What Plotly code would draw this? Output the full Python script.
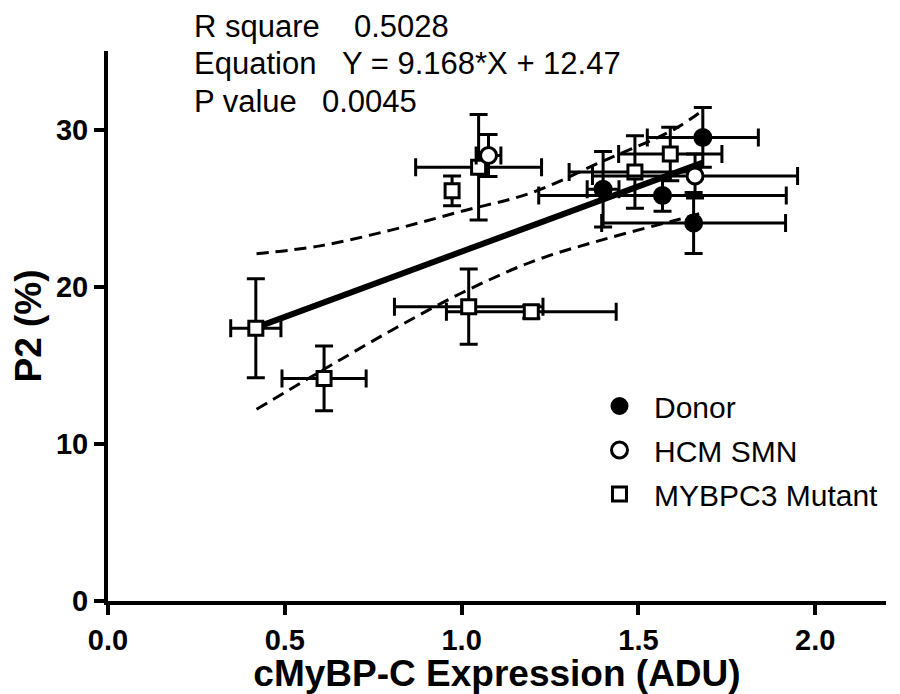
import plotly.graph_objects as go

# ---- data ----
donor_x = [1.40, 1.568, 1.682, 1.656]
donor_y = [26.2, 25.8, 29.5, 24.05]
donor_xerr = [0.045, 0.35, 0.157, 0.26]
donor_yerr = [2.4, 1.0, 1.9, 1.94]

hcm_x = [1.076, 1.66]
hcm_y = [28.35, 27.05]
hcm_xerr = [0.035, 0.29]
hcm_yerr = [1.33, 1.4]

mut_x = [0.418, 0.611, 1.02, 1.197, 0.973, 1.048, 1.49, 1.59]
mut_y = [17.35, 14.16, 18.73, 18.4, 26.1, 27.6, 27.3, 28.44]
mut_xerr = [0.071, 0.119, 0.21, 0.24, 0.0, 0.178, 0.186, 0.146]
mut_yerr = [3.15, 2.06, 2.39, 0.4, 0.95, 3.36, 2.3, 1.7]

fit_x = [0.418, 1.682]
fit_y = [17.4, 27.9]

band_x = [0.42, 0.6, 0.8, 1.0, 1.2, 1.4, 1.6, 1.68]
band_upper = [22.1, 22.6, 23.6, 24.8, 26.0, 28.0, 30.0, 31.2]
band_lower = [12.2, 14.6, 17.2, 19.6, 21.6, 23.0, 24.2, 24.7]

x_ticks = [0.0, 0.5, 1.0, 1.5, 2.0]
x_ticklabels = ["0.0", "0.5", "1.0", "1.5", "2.0"]
y_ticks = [0, 10, 20, 30]
y_ticklabels = ["0", "10", "20", "30"]

stats_labels = ["R square", "Equation", "P value"]
stats_values = ["0.5028", "Y = 9.168*X + 12.47", "0.0045"]

FONT = "Liberation Sans, Arial, sans-serif"

# page body has an 8px margin: work in screen pixels, convert to figure pixels
OFF = 8
FIG_W, FIG_H = 900 - OFF, 694 - OFF
L, T = 108 - OFF, 51 - OFF
R = FIG_W - (886 - OFF)
B = FIG_H - (601 - OFF)
W = FIG_W - L - R
H = FIG_H - T - B

def px_x(p):
    return (p - OFF - L) / W

def px_y(p):
    return (FIG_H - B - (p - OFF)) / H

fig = go.Figure()

# confidence band (dashed)
for band in (band_upper, band_lower):
    fig.add_trace(go.Scatter(x=band_x, y=band, mode="lines", showlegend=False,
                             line=dict(color="black", width=3, dash="12px,7px", shape="spline"),
                             hoverinfo="skip"))
# regression line
fig.add_trace(go.Scatter(x=fit_x, y=fit_y, mode="lines", showlegend=False,
                         line=dict(color="black", width=6), hoverinfo="skip"))

def err(arr):
    return dict(type="data", array=arr, visible=True, color="black", thickness=3, width=9)

fig.add_trace(go.Scatter(x=mut_x, y=mut_y, mode="markers", name="MYBPC3 Mutant",
                         legendrank=3, legendgroup="c",
                         error_x=err(mut_xerr), error_y=err(mut_yerr),
                         marker=dict(symbol="square", size=14, color="white",
                                     line=dict(color="black", width=3))))
fig.add_trace(go.Scatter(x=hcm_x, y=hcm_y, mode="markers", name="HCM SMN",
                         legendrank=2, legendgroup="b",
                         error_x=err(hcm_xerr), error_y=err(hcm_yerr),
                         marker=dict(symbol="circle", size=16, color="white",
                                     line=dict(color="black", width=3))))
fig.add_trace(go.Scatter(x=donor_x, y=donor_y, mode="markers", name="Donor",
                         legendrank=1, legendgroup="a",
                         error_x=err(donor_xerr), error_y=err(donor_yerr),
                         marker=dict(symbol="circle", size=17, color="black",
                                     line=dict(color="black", width=2))))

# stats text
row_y = [27, 63, 101]
value_x = [352, 340, 320]
for lab, val, yy, vx in zip(stats_labels, stats_values, row_y, value_x):
    fig.add_annotation(x=px_x(192), y=px_y(yy), xref="paper", yref="paper", text=lab,
                       showarrow=False, xanchor="left", yanchor="middle",
                       font=dict(family=FONT, size=31, color="black"))
    fig.add_annotation(x=px_x(vx), y=px_y(yy), xref="paper", yref="paper", text=val,
                       showarrow=False, xanchor="left", yanchor="middle",
                       font=dict(family=FONT, size=31, color="black"))

# y-axis extension below the x axis
fig.add_shape(type="line", xref="x", yref="paper", x0=0, x1=0, y0=0, y1=-0.025,
              line=dict(color="black", width=4))

fig.update_layout(
    width=FIG_W, height=FIG_H,
    margin=dict(l=L, r=R, t=T, b=B),
    paper_bgcolor="white", plot_bgcolor="white",
    font=dict(family=FONT, color="black"),
    showlegend=True,
    legend=dict(x=px_x(585), y=px_y(380), xanchor="left", yanchor="top",
                font=dict(family=FONT, size=30, color="black"),
                bgcolor="rgba(0,0,0,0)", itemwidth=59, tracegroupgap=2,
                traceorder="grouped"),
    xaxis=dict(range=[0, 2.2], tickvals=x_ticks, ticktext=x_ticklabels, automargin=False,
               showgrid=False, zeroline=False, showline=True, linewidth=4, linecolor="black",
               ticks="outside", ticklen=10, tickwidth=4, tickcolor="black",
               tickfont=dict(family=FONT, size=29, color="black", weight="bold"),
               title=dict(text="cMyBP-C Expression (ADU)", standoff=10,
                          font=dict(family=FONT, size=37, color="black", weight="bold"))),
    yaxis=dict(range=[0, 35], tickvals=y_ticks, ticktext=y_ticklabels, automargin=False,
               showgrid=False, zeroline=False, showline=True, linewidth=4, linecolor="black",
               ticks="outside", ticklen=10, tickwidth=4, tickcolor="black",
               tickfont=dict(family=FONT, size=29, color="black", weight="bold"),
               title=dict(text="P2 (%)", standoff=10,
                          font=dict(family=FONT, size=37, color="black", weight="bold"))),
)

fig.write_html("out.html")
